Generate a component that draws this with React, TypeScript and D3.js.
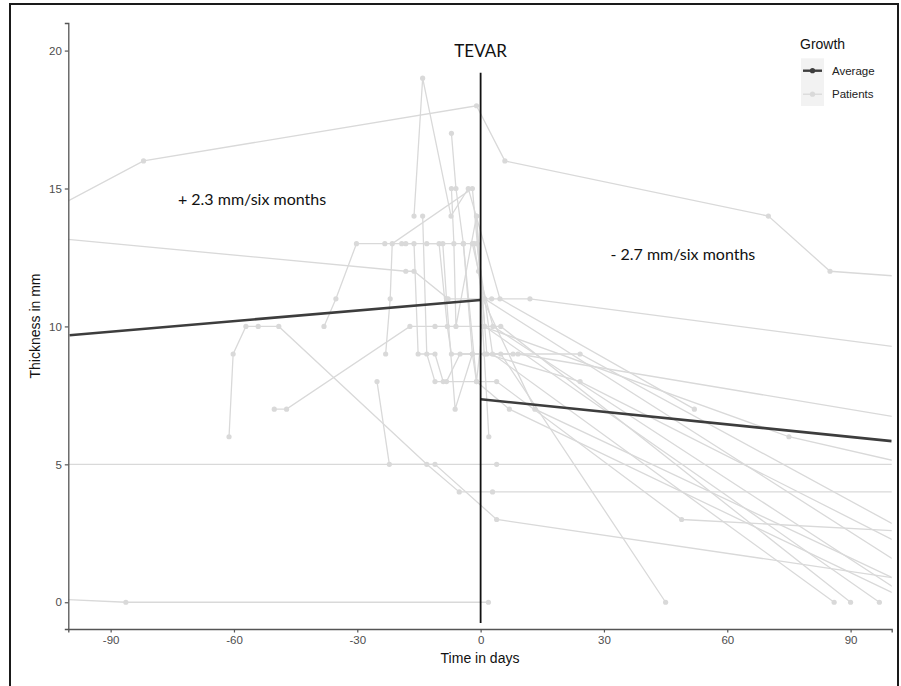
import React, { useEffect, useRef } from 'react'
import * as d3 from 'd3'

// time in days relative to TEVAR, thickness in mm
const patients: [number, number][][] = [
  [[-125, 12.6], [-82, 16], [-1, 18], [5.9, 16], [70, 14], [85, 12], [150, 11.3]],
  [[-150, 13.85], [-18.2, 12], [-16.2, 12], [-7.9, 11], [2.7, 11], [12, 11], [150, 8.3]],
  [[-38.1, 10], [-35.2, 11], [-30.2, 13], [-23.3, 13], [-0.9, 13], [2.9, 9], [86, 0]],
  [[-61.2, 6], [-60.2, 9], [-57.1, 10], [-54.1, 10], [-49.1, 10], [-13.1, 5], [-5.2, 4], [2.9, 4], [150, 4]],
  [[-130, 5], [-11.1, 5], [3.9, 3], [130, 0.24]],
  [[-25.2, 8], [-22.2, 5], [3.9, 5], [150, 5]],
  [[-130, 0.3], [-86.3, 0], [1.9, 0]],
  [[-50.2, 7], [-47.2, 7], [-17.2, 10], [-11.1, 10], [4.9, 10], [90, 0]],
  [[-16.2, 14], [-14.1, 19], [-7.2, 14], [-3, 15], [4.7, 11], [52, 7]],
  [[-23.1, 9], [-22, 11], [-21.5, 13], [-2, 15], [1, 10], [97, 0]],
  [[-19.2, 13], [-18.2, 13], [-16.2, 13], [-15.2, 9], [-11.1, 9], [-9.1, 8], [3.9, 8], [48.9, 3], [150, 2.2]],
  [[-14.1, 14], [-13.1, 9], [-11.1, 8], [-8.3, 8], [-5, 9], [1, 9], [24.2, 9], [130, 0.43]],
  [[-13.1, 13], [-10.1, 13], [-8.1, 10], [-7.1, 9], [4.9, 9], [45, 0]],
  [[-9.2, 13], [-8.3, 11], [-6.2, 7], [-2, 9], [7.9, 9], [9.1, 9], [150, 5.5]],
  [[-7.1, 17], [-6, 15], [-4.2, 13], [-1, 8], [0.5, 10], [75, 6], [150, 3.45]],
  [[-7.1, 15], [-6.5, 13], [-6, 10], [-1, 14], [1.5, 9], [24.2, 8], [130, 0.02]],
  [[-4.2, 13], [-2, 9], [-1, 8], [7, 7], [105, 0]],
  [[-1.6, 13], [0.5, 11], [13.2, 7], [110, 0.2]],
  [[-1, 14], [2, 6]],
  [[-2, 13], [1, 11], [115, 0.17]],
  [[-0.5, 12], [3, 10], [105, 0.1]],
]

const averageBefore: [number, number][] = [[-100, 9.68], [0, 10.96]]
const averageAfter: [number, number][] = [[0, 7.36], [100, 5.84]]
const tevarLine: [number, number][] = [[0, -0.75], [0, 19.2]]

const xTicks = [-90, -60, -30, 0, 30, 60, 90]
const yTicks = [0, 5, 10, 15, 20]
const legendItems = ['Average', 'Patients']

const PATIENT = '#d9d9d9'
const AVERAGE = '#3d3d3d'

export default function App() {
  const xAxisRef = useRef<SVGGElement>(null)
  const yAxisRef = useRef<SVGGElement>(null)

  const x = d3.scaleLinear().domain([-100.3, 100]).range([68.3, 891.7])
  const y = d3.scaleLinear().domain([-0.97, 21]).range([629, 23])
  const line = d3.line<[number, number]>().x(d => x(d[0])).y(d => y(d[1]))

  useEffect(() => {
    const gx = d3.select(xAxisRef.current!)
    gx.selectAll('*').remove()
    gx.call(d3.axisBottom(x).tickValues(xTicks).tickSize(3.5).tickPadding(3).tickFormat(d => String(d)))
    const gy = d3.select(yAxisRef.current!)
    gy.selectAll('*').remove()
    gy.call(d3.axisLeft(y).tickValues(yTicks).tickSize(3.5).tickPadding(3).tickFormat(d => String(d)))
    for (const g of [gx, gy]) {
      g.select('.domain').attr('stroke', '#555').attr('stroke-width', 1.3)
      g.selectAll('.tick line').attr('stroke', '#555').attr('stroke-width', 1.2)
      g.selectAll('.tick text')
        .attr('fill', '#4d4d4d')
        .style('font-size', '11.5px')
        .style('font-family', 'Liberation Sans, Arial, sans-serif')
    }
  }, [])

  return (
    <svg width={901} height={686} style={{ position: 'absolute', left: 0, top: 0, background: '#fff' }}
      fontFamily="Liberation Sans, Arial, sans-serif">
      <defs>
        <clipPath id="panel">
          <rect x={68.3} y={23} width={823.4} height={606} />
        </clipPath>
      </defs>
      <rect x={10} y={4} width={888} height={700} fill="none" stroke="#1a1a1a" strokeWidth={2} />

      <g clipPath="url(#panel)">
        {patients.map((p, i) => (
          <g key={i}>
            <path d={line(p) || ''} fill="none" stroke={PATIENT} strokeWidth={1.3} />
            {p.map((d, j) => (
              <circle key={j} cx={x(d[0])} cy={y(d[1])} r={2.6} fill={PATIENT} />
            ))}
          </g>
        ))}
        <path d={line(averageBefore) || ''} fill="none" stroke={AVERAGE} strokeWidth={2.6} />
        <path d={line(averageAfter) || ''} fill="none" stroke={AVERAGE} strokeWidth={2.6} />
        <path d={line(tevarLine) || ''} fill="none" stroke="#111" strokeWidth={1.8} />
      </g>

      <g ref={xAxisRef} transform="translate(0,629)" />
      <g ref={yAxisRef} transform="translate(68.3,0)" />

      <text x={x(0)} y={y(20)} dy="0.35em" textAnchor="middle" fontFamily="Lato, Open Sans, sans-serif"
        fontSize={17} fill="#111">TEVAR</text>
      <text x={x(-55.6)} y={y(14.6)} dy="0.35em" textAnchor="middle" fontFamily="Lato, Open Sans, sans-serif"
        fontSize={16} fill="#111">+ 2.3 mm/six months</text>
      <text x={x(49.2)} y={y(12.6)} dy="0.35em" textAnchor="middle" fontFamily="Lato, Open Sans, sans-serif"
        fontSize={16} fill="#111">- 2.7 mm/six months</text>

      <text x={480} y={658} dy="0.35em" textAnchor="middle" fontSize={14} fill="#111">Time in days</text>
      <text transform="translate(35,326) rotate(-90)" dy="0.35em" textAnchor="middle" fontSize={14} fill="#111">
        Thickness in mm
      </text>

      <text x={800} y={44} dy="0.35em" fontSize={14} fill="#111">Growth</text>
      <rect x={801} y={58.3} width={23} height={47.7} fill="#f2f2f2" />
      {legendItems.map((name, i) => {
        const cy = 70.7 + i * 23.5
        const c = i === 0 ? AVERAGE : PATIENT
        return (
          <g key={name}>
            <line x1={803} x2={822} y1={cy} y2={cy} stroke={c} strokeWidth={i === 0 ? 2.4 : 1.3} />
            <circle cx={812.5} cy={cy} r={2.6} fill={c} />
            <text x={832} y={cy} dy="0.35em" fontSize={11.5} fill="#222">{name}</text>
          </g>
        )
      })}
    </svg>
  )
}
